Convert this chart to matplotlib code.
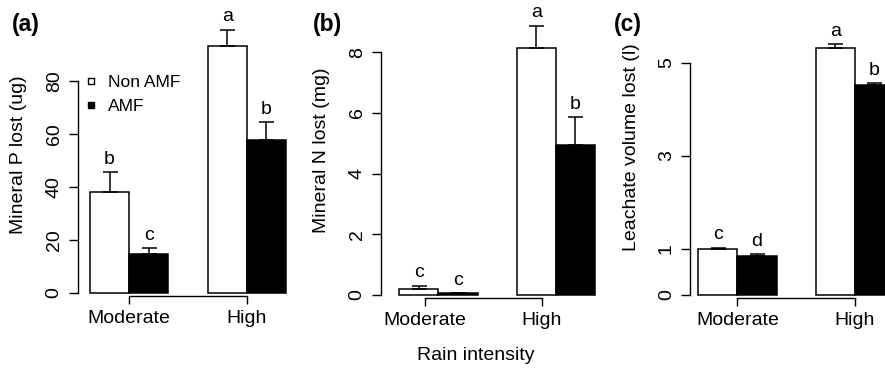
import matplotlib
matplotlib.use('Agg')
import matplotlib.pyplot as plt
from matplotlib.lines import Line2D

plt.rcParams['font.family'] = ['Liberation Sans', 'DejaVu Sans']

# ---------------- data ----------------
groups = ['Moderate', 'High']
treatments = ['Non AMF', 'AMF']

# (a) Mineral P lost (ug)
p_nonamf = [38.1, 93.2]
p_nonamf_err = [7.5, 6.3]
p_amf = [14.6, 57.8]
p_amf_err = [2.3, 6.7]
p_letters_nonamf = ['b', 'a']
p_letters_amf = ['c', 'b']
p_yticks = [0, 20, 40, 60, 80]

# (b) Mineral N lost (mg)
n_nonamf = [0.19, 8.14]
n_nonamf_err = [0.12, 0.74]
n_amf = [0.05, 4.95]
n_amf_err = [0.01, 0.91]
n_letters_nonamf = ['c', 'a']
n_letters_amf = ['c', 'b']
n_yticks = [0, 2, 4, 6, 8]

# (c) Leachate volume lost (l)
v_nonamf = [1.0, 5.31]
v_nonamf_err = [0.02, 0.09]
v_amf = [0.84, 4.52]
v_amf_err = [0.04, 0.04]
v_letters_nonamf = ['c', 'a']
v_letters_amf = ['d', 'b']
v_yticks = [0, 1, 3, 5]

# ---------------- figure ----------------
W, H = 885, 369
fig = plt.figure(figsize=(W / 100, H / 100), dpi=100)
FS = 14


def fig_xy(x, y):
    return x / W, (H - y) / H


def make_panel(spine_x, first_bar_x, zero_y, ux, uy, xmax, ymax,
               nonamf, nonamf_err, amf, amf_err, let_non, let_amf,
               yticks, ylabel, ylabel_xy, tick_shift, panel, panel_xy):
    xmin = -(first_bar_x - spine_x) / ux
    left, bottom = fig_xy(spine_x, zero_y)
    width = (xmax - xmin) * ux / W
    height = ymax * uy / H
    ax = fig.add_axes([left, bottom, width, height])
    ax.set_xlim(xmin, xmax)
    ax.set_ylim(0, ymax)
    ax.patch.set_alpha(0)

    x_non = [3 * i for i in range(len(groups))]
    x_amf = [3 * i + 1 for i in range(len(groups))]
    ax.bar(x_non, nonamf, width=1, align='edge', color='white',
           edgecolor='black', linewidth=1.1, clip_on=False, zorder=2)
    ax.bar(x_amf, amf, width=1, align='edge', color='black',
           edgecolor='black', linewidth=1.1, clip_on=False, zorder=2)
    for xs, vals, errs, lets in ((x_non, nonamf, nonamf_err, let_non),
                                 (x_amf, amf, amf_err, let_amf)):
        xc = [x + 0.5 for x in xs]
        eb = ax.errorbar(xc, vals, yerr=[[0] * len(vals), errs], fmt='none',
                         ecolor='black', elinewidth=1.1, capsize=5.4,
                         capthick=1.1, zorder=3)
        for art in eb.get_children():
            art.set_clip_on(False)
        for x, v, e, l in zip(xc, vals, errs, lets):
            ax.annotate(l, (x, v + e), xytext=(0, 6), textcoords='offset points',
                        ha='center', va='baseline', fontsize=FS,
                        annotation_clip=False)

    for s in ('top', 'right'):
        ax.spines[s].set_visible(False)
    ax.spines['left'].set_bounds(yticks[0], yticks[-1])
    ax.spines['left'].set_linewidth(1.0)
    ax.spines['bottom'].set_linewidth(1.0)
    ax.spines['bottom'].set_position(('outward', 2.2))
    xt = [3 * i + 1 + tick_shift for i in range(len(groups))]
    ax.spines['bottom'].set_bounds(xt[0], xt[-1])
    ax.set_xticks(xt)
    ax.set_xticklabels(groups, fontsize=FS)
    ax.set_yticks(yticks)
    ax.set_yticklabels([str(t) for t in yticks], fontsize=FS)
    ax.tick_params(axis='y', labelrotation=90, length=6.8, width=1.0, pad=4)
    ax.tick_params(axis='x', length=5.8, width=1.0, pad=4)
    for lab in ax.get_yticklabels():
        lab.set_va('center')

    ax.set_ylabel(ylabel, fontsize=FS)
    ax.yaxis.label.set_va('center')
    ax.yaxis.set_label_coords(*fig_xy(*ylabel_xy), transform=fig.transFigure)

    fig.text(*fig_xy(*panel_xy), panel, fontsize=16.5, fontweight='bold',
             ha='center', va='center')
    return ax


ax_a = make_panel(77.7, 90.0, 293.0, 39.2, 2.646, 5.3, 100,
                  p_nonamf, p_nonamf_err, p_amf, p_amf_err,
                  p_letters_nonamf, p_letters_amf, p_yticks,
                  'Mineral P lost (ug)', (19, 155), 0.0, '(a)', (26, 25))
ax_b = make_panel(380.7, 399.3, 295.0, 39.1, 30.33, 5.3, 9,
                  n_nonamf, n_nonamf_err, n_amf, n_amf_err,
                  n_letters_nonamf, n_letters_amf, n_yticks,
                  'Mineral N lost (mg)', (322, 150), -0.35, '(b)', (328, 25))
ax_c = make_panel(690.0, 698.3, 295.0, 39.1, 46.46, 5.3, 5.8,
                  v_nonamf, v_nonamf_err, v_amf, v_amf_err,
                  v_letters_nonamf, v_letters_amf, v_yticks,
                  'Leachate volume lost (l)', (632, 147), 0.0, '(c)', (628, 25))

# legend in panel (a)
handles = [Line2D([], [], linestyle='none', marker='s', markersize=5,
                  markerfacecolor='white', markeredgecolor='black', markeredgewidth=1.0),
           Line2D([], [], linestyle='none', marker='s', markersize=5,
                  markerfacecolor='black', markeredgecolor='black', markeredgewidth=1.0)]
ax_a.legend(handles, treatments, loc='upper left',
            bbox_to_anchor=fig_xy(84, 75), bbox_transform=fig.transFigure,
            frameon=False, fontsize=12.5, handlelength=0.8, handletextpad=0.6,
            labelspacing=0.5, borderpad=0, borderaxespad=0)

fig.text(*fig_xy(476, 356), 'Rain intensity', fontsize=FS, ha='center', va='center')

fig.savefig('out.png', dpi=100)
